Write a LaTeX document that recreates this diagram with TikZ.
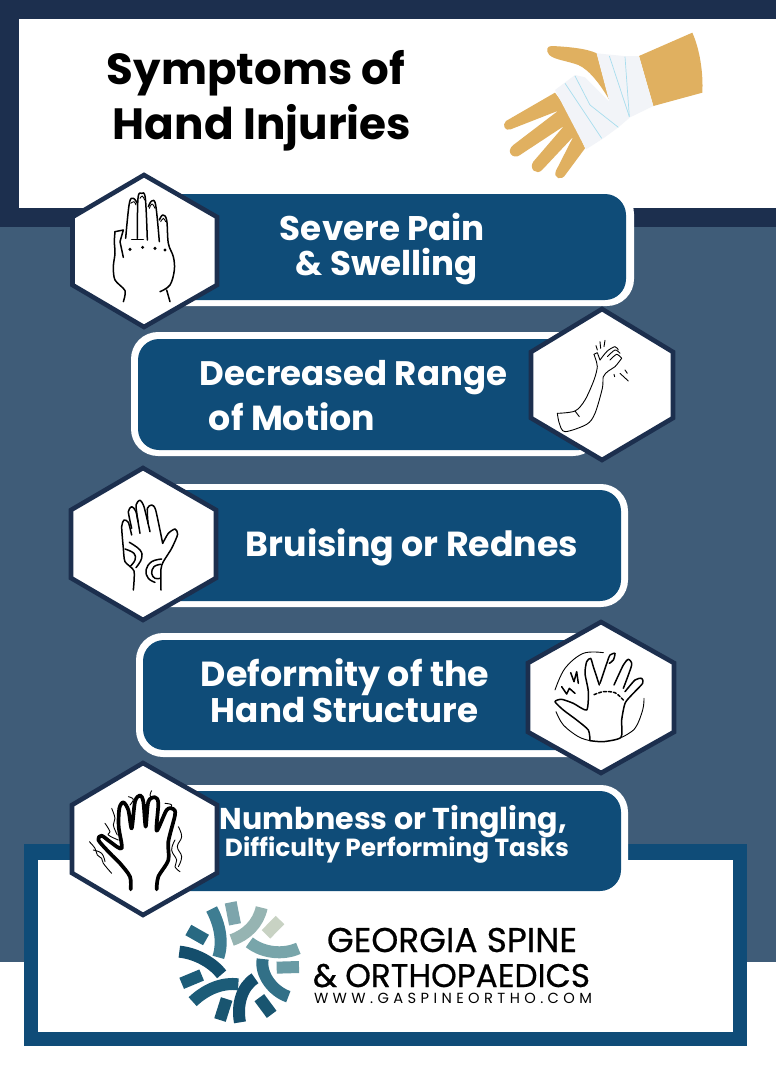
\documentclass[tikz,border=0pt]{standalone}
\usepackage{fontspec}
\usepackage{graphicx}
\setmainfont{Poppins}
\definecolor{navy}{HTML}{1C2F4E}
\definecolor{slate}{HTML}{3F5C78}
\definecolor{pillblue}{HTML}{0F4C78}
\definecolor{skin}{HTML}{E0B060}
\definecolor{wrap}{HTML}{F2F4F8}
\definecolor{wrapline}{HTML}{A8DDEE}
\newcommand{\lbl}[5]{\node[lbltext] (#1) at (#2,#3) {\resizebox{#4pt}{!}{\bfseries #5}};}
\newcommand{\hex}[7]{\path[hexline] (#1,#2) -- (#4,#5) -- (#4,#6) -- (#1,#7) -- (#3,#6) -- (#3,#5) -- cycle;}
\tikzset{
  lbltext/.style={anchor=base,inner sep=0pt,outer sep=0pt,text=white},
  hexline/.style={draw=navy,fill=white,line width=4.6pt,line join=miter},
  pillout/.style={fill=white,rounded corners=27pt},
  pillin/.style={fill=pillblue,rounded corners=21pt},
  ink/.style={draw=black,line width=1.5pt,line cap=round,line join=round},
  thin ink/.style={draw=black,line width=.9pt,line cap=round,line join=round},
  thick ink/.style={draw=black,line width=3.7pt,line cap=round,line join=round},
  logoseg/.style={line width=12pt},
}
\begin{document}
\begin{tikzpicture}[x=1pt,y=-1pt]
\useasboundingbox (0,0) rectangle (776,1079);
% backgrounds
\fill[white] (0,0) rectangle (776,1079);
\fill[slate] (0,227) rectangle (776,962);
\fill[navy] (0,0) rectangle (776,227);
\fill[white] (19,19) rectangle (776,208);
\fill[pillblue] (24,844) rectangle (747,1046);
\fill[white] (38,860) rectangle (733,1032);
% title
\node[lbltext,text=black] (t1) at (256,84) {\resizebox{298pt}{!}{\bfseries Symptoms of}};
\node[lbltext,text=black] (t2) at (262,139) {\resizebox{298pt}{!}{\bfseries Hand Injuries}};
% bandaged hand
\begin{scope}[shift={(490,20)},scale=1/3]
\fill[skin] (447,108) -- (607,38) .. controls (630,90) and (640,160) .. (637,218) -- (490,258) -- cycle;
\fill[skin] (195,218) -- (48,303) .. controls (35,315) and (45,335) .. (62,328) -- (205,272) -- (70,375) .. controls (45,395) and (70,420) .. (90,405) -- (222,318) -- (130,425) .. controls (115,445) and (140,470) .. (158,448) -- (250,350) -- (198,452) .. controls (188,475) and (215,485) .. (228,462) -- (285,385) -- (240,280) -- cycle;
\fill[skin] (185,78) .. controls (230,80) and (290,85) .. (320,100) -- (358,240) .. controls (335,200) and (300,150) .. (265,135) .. controls (230,122) and (195,120) .. (178,105) .. controls (165,90) and (172,78) .. (185,78) -- cycle;
\fill[wrap] (195,210) -- (255,165) -- (285,172) -- (358,245) -- (320,100) -- (400,108) -- (447,108) -- (490,258) -- (420,292) -- (385,322) -- (340,355) -- (288,388) -- cycle;
\draw[wrapline,line width=.7pt] (225,190) -- (335,355);
\draw[wrapline,line width=.7pt] (255,168) -- (300,255) -- (385,322);
\draw[wrapline,line width=.7pt] (358,108) -- (418,290);
\draw[wrapline,line width=.7pt] (405,110) -- (418,290);
\end{scope}
% pills
\fill[pillout] (110,187) rectangle (634,306);
\fill[pillin] (110,194) rectangle (626,300);
\fill[pillout] (131,332) rectangle (600,456);
\fill[pillin] (138,339) rectangle (600,450);
\fill[pillout] (110,484) rectangle (628,607);
\fill[pillin] (110,490) rectangle (621,601);
\fill[pillout] (136,633) rectangle (600,757);
\fill[pillin] (143,640) rectangle (600,750);
\fill[pillout] (110,785) rectangle (628,897);
\fill[pillin] (110,791) rectangle (621,891);
% hexagons
\hex{144}{175}{72.5}{217}{217}{285}{327}
\hex{602}{309}{531}{673}{352}{418}{460}
\hex{143}{468}{71}{216}{510}{578}{620}
\hex{601}{622}{528}{674}{663}{732}{773}
\hex{143}{763}{72}{217}{805}{873}{915}
% labels
\lbl{a1}{382.5}{240}{205}{Severe Pain}
\lbl{a2}{387}{275}{182}{\& Swelling}
\lbl{b1}{353.5}{385}{307}{Decreased Range}
\lbl{b2}{292}{430}{166}{of Motion}
\lbl{c1}{412}{556}{332}{Bruising or Rednes}
\lbl{d1}{345}{686}{288}{Deformity of the}
\lbl{d2}{344.5}{722}{267}{Hand Structure}
\lbl{e1}{393.5}{829}{347}{Numbness or Tingling,}
\lbl{e2}{397}{856}{344}{Difficulty Performing Tasks}
% icon 1
\begin{scope}[shift={(60,170)},scale=1/3]
\draw[ink] plot[smooth,tension=.5] coordinates {(190,395) (195,362) (165,330) (160,290) (165,250) (163,215) (165,185)};
\draw[ink] (165,185) -- (190,180) -- (180,215) -- (190,262);
\draw[ink] plot[smooth,tension=.6] coordinates {(197,205) (208,100) (220,85) (232,100)};
\draw[ink] plot[smooth,tension=.6] coordinates {(232,205) (234,85) (245,70) (256,85) (262,210)};
\draw[ink] plot[smooth,tension=.6] coordinates {(265,110) (275,93) (287,105) (298,215)};
\draw[ink] plot[smooth,tension=.6] coordinates {(298,150) (308,135) (320,150) (325,220) (340,260) (343,300) (330,345) (300,365)};
\draw[ink] (320,360) -- (330,395);
\draw[ink] (215,208) -- (250,208);
\draw[thin ink] plot[smooth,tension=.7] coordinates {(212,100) (222,95) (228,105)};
\draw[thin ink] plot[smooth,tension=.7] coordinates {(240,85) (247,78) (254,90)};
\draw[thin ink] plot[smooth,tension=.7] coordinates {(268,115) (276,102) (285,115)};
\draw[thin ink] plot[smooth,tension=.7] coordinates {(302,155) (310,145) (317,155)};
\fill (210,238) circle (5) (248,232) circle (5) (285,235) circle (5) (315,240) circle (5);
\end{scope}
% icon 2
\begin{scope}[shift={(520,305)},scale=1/3]
\draw[thin ink] plot[smooth,tension=.5] coordinates {(112,325) (165,318) (195,285) (222,225) (232,185) (226,160) (222,148)};
\draw[thin ink] (222,148) -- (232,143) -- (240,165);
\draw[thin ink] plot[smooth,tension=.5] coordinates {(240,165) (262,138) (285,125) (295,135)};
\draw[thin ink] plot[smooth,tension=.5] coordinates {(262,155) (285,135) (300,145)};
\draw[thin ink] plot[smooth,tension=.5] coordinates {(270,165) (290,148) (305,160)};
\draw[thin ink] plot[smooth,tension=.5] coordinates {(305,160) (285,185) (265,198) (250,215) (247,250) (225,325) (200,358) (135,380) (118,355) (112,325)};
\draw[thin ink] (165,318) -- (178,335);
\draw[thin ink] (228,122) -- (232,135) (240,110) -- (242,130) (255,106) -- (252,125) (300,205) -- (325,228) (315,195) -- (322,205) (282,208) -- (284,215);
\end{scope}
% icon 3
\begin{scope}[shift={(60,465)},scale=1/3]
\draw[ink] plot[smooth,tension=.4] coordinates {(220,375) (222,318) (195,290) (190,250) (185,185) (192,165) (205,172) (215,210)};
\draw[ink] plot[smooth,tension=.4] coordinates {(215,190) (205,140) (215,125) (228,140) (240,205)};
\draw[ink] plot[smooth,tension=.4] coordinates {(234,170) (228,120) (240,106) (252,125) (270,200)};
\draw[ink] plot[smooth,tension=.4] coordinates {(264,175) (262,130) (275,120) (287,135) (308,235)};
\draw[ink] plot[smooth,tension=.4] coordinates {(308,235) (325,205) (345,192) (353,208) (335,250) (310,290) (303,312) (303,375)};
\draw[ink] plot[smooth,tension=.7] coordinates {(195,252) (222,265) (225,285) (210,305)};
\draw[ink] plot[smooth,tension=.7] coordinates {(208,232) (240,255) (245,280) (228,308)};
\draw[ink] plot[smooth,tension=.7] coordinates {(302,298) (282,305) (275,325) (285,340) (300,340)};
\draw[ink] plot[smooth,tension=.7] coordinates {(305,282) (275,290) (258,315) (265,340) (285,352)};
\end{scope}
% icon 4
\begin{scope}[shift={(520,620)},scale=1/3]
\draw[thin ink] plot[smooth,tension=.6] coordinates {(250,98) (190,100) (135,145) (105,210)};
\draw[thin ink] plot[smooth,tension=.6] coordinates {(108,275) (130,315) (175,350) (210,362)};
\draw[thin ink] plot[smooth,tension=.6] coordinates {(305,352) (345,325) (368,270) (372,235)};
\draw[ink] plot[smooth,tension=.4] coordinates {(210,362) (205,330) (170,300) (130,270) (105,245) (125,238) (160,250) (200,270) (205,215) (195,160) (200,125) (212,115) (220,140) (238,195)};
\draw[ink] plot[smooth,tension=.4] coordinates {(240,190) (262,125) (270,105) (285,100) (280,120) (268,130)};
\draw[ink] plot[smooth,tension=.4] coordinates {(282,195) (310,135) (325,118) (335,135) (310,205)};
\draw[ink] plot[smooth,tension=.4] coordinates {(315,215) (345,180) (365,175) (368,190) (335,225) (315,250) (305,300) (303,352) (250,365) (210,362)};
\draw[ink] (152,158) -- (162,185) -- (170,155) -- (175,190);
\draw[ink] (125,200) -- (140,222) -- (148,205) -- (165,220);
\draw[ink,densely dashed] plot[smooth] coordinates {(222,224) (250,215) (285,218) (310,240)};
\end{scope}
% icon 5
\begin{scope}[shift={(60,760)},scale=1/3]
\draw[thick ink] plot[smooth,tension=.5] coordinates {(212,388) (210,350) (180,310) (150,280) (115,240) (125,227) (150,245) (185,265) (176,200) (178,145) (190,127) (205,150) (215,205) (225,125) (240,106) (250,125) (257,200) (265,125) (285,112) (295,130) (290,212) (320,150) (340,147) (345,165) (325,245) (325,300) (295,350) (290,388)};
\draw[thin ink] plot[smooth,tension=.7] coordinates {(88,245) (105,265) (112,285) (125,295) (130,310) (155,340)};
\draw[thin ink] plot[smooth,tension=.7] coordinates {(100,270) (125,280) (135,305)};
\draw[thin ink] plot[smooth,tension=.7] coordinates {(135,190) (150,215) (145,225) (175,240)};
\draw[thin ink] plot[smooth,tension=.7] coordinates {(155,145) (165,175) (160,195) (172,225)};
\draw[thin ink] plot[smooth,tension=.7] coordinates {(205,110) (220,118) (210,135)};
\draw[thin ink] plot[smooth,tension=.7] coordinates {(275,92) (270,105) (275,115)};
\draw[thin ink] plot[smooth,tension=.7] coordinates {(315,130) (335,135) (325,150)};
\draw[thin ink] plot[smooth,tension=.7] coordinates {(355,200) (365,230) (352,260) (365,290) (355,320)};
\draw[thin ink] plot[smooth,tension=.7] coordinates {(345,240) (335,270) (350,300) (345,320) (360,335)};
\end{scope}
% logo
\begin{scope}[shift={(170,895)},scale=1/3]
\draw[logoseg,color={rgb,255:red,62;green,125;blue,146}] (125,42) .. controls (150,90) and (160,140) .. (145,187);
\draw[logoseg,color={rgb,255:red,125;green,165;blue,172}] (182,22) -- (195,88);
\draw[logoseg,color={rgb,255:red,150;green,180;blue,178}] (275,38) .. controls (265,85) and (230,120) .. (185,135);
\draw[logoseg,color={rgb,255:red,200;green,210;blue,195}] (330,75) -- (288,118);
\draw[logoseg,color={rgb,255:red,120;green,165;blue,170}] (238,142) .. controls (280,175) and (340,180) .. (385,160);
\draw[logoseg,color={rgb,255:red,105;green,155;blue,165}] (320,218) -- (387,216);
\draw[logoseg,color={rgb,255:red,50;green,112;blue,135}] (278,192) .. controls (270,240) and (310,290) .. (355,305);
\draw[logoseg,color={rgb,255:red,25;green,85;blue,112}] (268,308) -- (305,358);
\draw[logoseg,color={rgb,255:red,20;green,78;blue,108}] (255,250) .. controls (215,275) and (200,330) .. (210,382);
\draw[logoseg,color={rgb,255:red,25;green,85;blue,112}] (170,312) -- (150,375);
\draw[logoseg,color={rgb,255:red,28;green,92;blue,120}] (68,320) .. controls (110,280) and (160,262) .. (205,268);
\draw[logoseg,color={rgb,255:red,28;green,92;blue,120}] (95,240) -- (35,265);
\draw[logoseg,color={rgb,255:red,20;green,78;blue,108}] (28,170) .. controls (80,175) and (130,205) .. (155,238);
\draw[logoseg,color={rgb,255:red,40;green,105;blue,130}] (55,105) -- (108,135);
\end{scope}
\node[lbltext,text=black] (g1) at (452,952) {\resizebox{250pt}{!}{\addfontfeature{FakeBold=0.6}GEORGIA SPINE}};
\node[lbltext,text=black] (g2) at (451.5,987) {\resizebox{277pt}{!}{\addfontfeature{FakeBold=0.6}\&\hspace{.25em}ORTHOPAEDICS}};
\node[lbltext,text=black] (g3) at (453,1003) {\resizebox{278pt}{!}{\addfontfeature{LetterSpace=30}WWW.GASPINEORTHO.COM}};
\end{tikzpicture}
\end{document}
